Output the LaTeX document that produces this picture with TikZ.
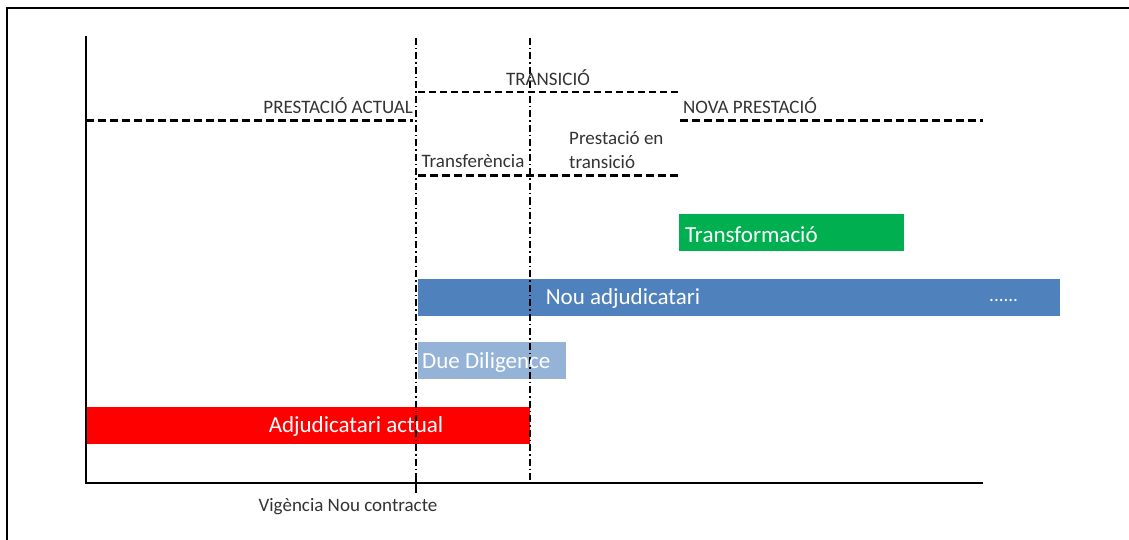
\documentclass[tikz,border=0pt]{standalone}
\usepackage{fontspec}
\setmainfont{Carlito}
\begin{document}
\begin{tikzpicture}[x=1pt,y=-1pt,
  lbl/.style={inner sep=0pt, font=\fontsize{19}{21}\selectfont, text=black!80},
  boxtxt/.style={inner sep=0pt, font=\fontsize{23}{25}\selectfont, text=white},
  thickdash/.style={line width=3pt, dash pattern=on 8pt off 4pt},
  thindash/.style={line width=1.2pt, dash pattern=on 7pt off 4pt},
  dashdot/.style={line width=1.3pt, dash pattern=on 7pt off 3pt on 1.5pt off 3pt}]
\useasboundingbox (0,0) rectangle (1129,540);
\definecolor{gbar}{RGB}{0,176,80}
\definecolor{bbar}{RGB}{79,129,189}
\definecolor{lbar}{RGB}{149,179,215}
\definecolor{rbar}{RGB}{255,0,0}
% frame
\draw[line width=1.5pt] (7,540) -- (7,8) -- (1129,8);
% bars
\fill[gbar] (679,214) rectangle (904,251);
\fill[bbar] (418,279) rectangle (1060,316);
\fill[lbar] (418,342) rectangle (566,379);
\fill[rbar] (86,407) rectangle (530,444);
% axes
\coordinate (ytop) at (86,36);
\coordinate (orig) at (86,483);
\coordinate (xend) at (983,483);
\draw[line width=1.5pt] (ytop) -- (orig) -- (xend);
% vertical dash-dot lines
\coordinate (v1t) at (416,38); \coordinate (v1b) at (416,483);
\coordinate (v2t) at (530,38); \coordinate (v2b) at (530,483);
\draw[dashdot] (v1t) -- (v1b);
\draw[dashdot] (v2t) -- (v2b);
\draw[line width=2pt] (416,474) -- (416,493);
% horizontal dashed lines
\coordinate (pa1) at (86,121); \coordinate (pa2) at (413,121);
\draw[thickdash] (pa1) -- (pa2);
\coordinate (np1) at (680,121); \coordinate (np2) at (983,121);
\draw[thickdash] (np1) -- (np2);
\coordinate (tr1) at (418,92); \coordinate (tr2) at (678,92);
\draw[thindash] (tr1) -- (tr2);
\coordinate (pt1) at (418,176); \coordinate (pt2) at (678,176);
\draw[thickdash] (pt1) -- (pt2);
% labels
\node[lbl, anchor=east] (pact) at (413,106) {PRESTACIÓ ACTUAL};
\node[lbl] (trans) at (548,78) {TRANSICIÓ};
\node[lbl, anchor=west] (nova) at (683,106) {NOVA PRESTACIÓ};
\node[lbl] (transf) at (473,161) {Transferència};
\node[lbl, anchor=west, align=left] (pet) at (569,150) {Prestació en\\[3pt]transició};
\node[lbl] (vig) at (348,507) {Vigència Nou contracte};
% bar texts
\node[boxtxt, anchor=west] (tf) at (685,235) {Transformació};
\node[boxtxt] (nou) at (623,298) {Nou adjudicatari};
\node[lbl, text=white, anchor=west] (dots) at (989,300) {......};
\node[boxtxt, anchor=west] (dd) at (422,362) {Due Diligence};
\node[boxtxt] (aa) at (356,426) {Adjudicatari actual};
\end{tikzpicture}
\end{document}
